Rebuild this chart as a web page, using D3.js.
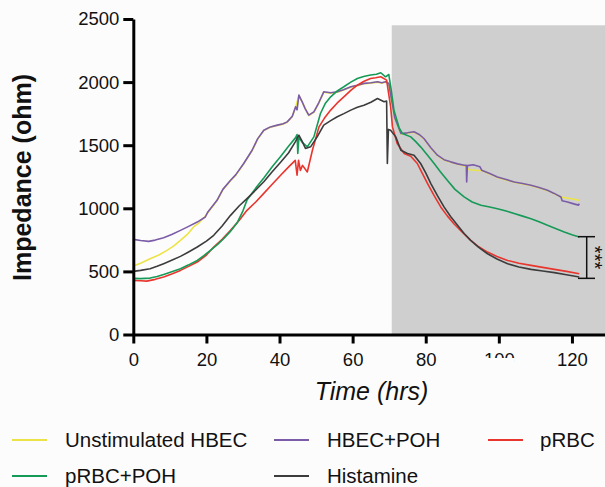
<!DOCTYPE html>
<html>
<head>
<meta charset="utf-8">
<script src="https://cdnjs.cloudflare.com/ajax/libs/d3/7.8.5/d3.min.js"></script>
<style>
	body { margin: 0; background: #fdfcfc; }
	svg { display: block; font-family: 'Liberation Sans', Arial, sans-serif; }
</style>
</head>
<body>
<svg id="chart" width="605" height="487"></svg>
<script>
'use strict'

// [time (hrs), impedance (ohm)]
var unstimulated = [
	[0,542],[2,565],[4.6,601],[7,630],[9.2,667],[11,700],[12.9,746],[15,800],[16.5,852],[18,885],[19.5,931],
	[20.4,966],[22.9,1060],[24.5,1147],[26.6,1219],[28,1262],[30.2,1352],[32.5,1457],[34,1547],[35.7,1616],
	[37.5,1642],[39.4,1656],[41,1667],[42.1,1682],[43.5,1727],[44.4,1800],[45.3,1893],[46.2,1841],[48,1735],
	[49.4,1761],[50.8,1837],[52.1,1920],[54,1912],[55.8,1920],[57.5,1937],[59.5,1960],[61.3,1972],[63.1,1987],
	[65,1992],[66.8,2000],[68,1992],[69,2000],[69.9,1987],[70.4,1897],[71.5,1717],[73.2,1590],[75,1595],
	[76.8,1603],[78.2,1582],[79.5,1550],[81.4,1477],[83.2,1418],[85,1382],[86.8,1365],[88.7,1349],[90.5,1338],
	[92,1305],[94.5,1300],[95.3,1300],[97.5,1272],[99.6,1245],[102,1225],[104.2,1206],[106.5,1193],[108.8,1180],
	[111,1162],[113.3,1140],[115,1117],[117,1090],[119,1080],[121,1070],[122,1063]
];

var hbecPoh = [
	[0,754],[2,745],[4.2,738],[6,748],[8.3,767],[10.5,792],[12.9,825],[15,855],[17.5,891],[19.7,931],
	[20.4,971],[22.9,1063],[24.5,1150],[26.6,1222],[28,1265],[30.2,1355],[32.5,1460],[34,1550],[35.7,1619],
	[37.5,1645],[39.4,1659],[41,1670],[42.1,1685],[43.5,1730],[44.4,1804],[44.8,1780],[45.3,1897],[46.2,1844],
	[47,1790],[48,1738],[49.4,1764],[50.8,1840],[52.1,1923],[54,1915],[55.8,1923],[57.5,1940],[59.5,1963],
	[61.3,1975],[63.1,1990],[65,1995],[66.8,2003],[68,1995],[69,2003],[69.9,1990],[70.4,1900],[71.5,1720],
	[73.2,1593],[75,1598],[76.8,1606],[78.2,1585],[79.5,1553],[81.4,1480],[83.2,1421],[85,1385],[86.8,1368],
	[88.7,1352],[90.5,1341],[91.1,1340],[91.2,1209],[91.4,1338],[93,1345],[94.8,1330],[95.3,1302],[97.5,1275],
	[99.6,1248],[102,1228],[104.2,1209],[106.5,1196],[108.8,1183],[111,1165],[113.3,1143],[115,1120],[117,1090],
	[117.3,1060],[118.8,1050],[120.5,1035],[121.8,1025],[122,1037]
];

var prbc = [
	[0,429],[2,426],[3.7,423],[6,437],[8.3,455],[10.5,480],[12.9,508],[15,538],[17.5,574],[20,630],[22,693],
	[24.3,755],[26.6,825],[29,905],[31.1,984],[33.5,1050],[35.7,1118],[38,1190],[40.3,1262],[42.5,1328],
	[44.3,1380],[44.8,1262],[45.2,1381],[45.7,1300],[46.3,1340],[47.6,1288],[49,1460],[50.8,1645],[52.3,1715],
	[54,1778],[55.8,1835],[57.6,1883],[59.5,1935],[61.3,1976],[63,2005],[64.9,2029],[66.3,2035],[67.7,2042],
	[69.3,2016],[70.4,1804],[70.9,1645],[72.2,1513],[74.1,1434],[75.9,1413],[77.7,1355],[79,1280],[80.5,1196],
	[82.3,1100],[84.1,1011],[85.9,940],[87.7,878],[90,810],[92.3,746],[94.5,695],[96.9,653],[99.5,618],
	[102.4,587],[105.5,565],[108.8,548],[112,532],[115.2,516],[118.5,500],[122,482]
];

var prbcPoh = [
	[0,445],[2,443],[4.6,447],[6.5,460],[8.3,476],[10.5,497],[12.9,521],[15,550],[17.5,587],[19.3,625],
	[21.1,667],[23,712],[24.7,759],[26.5,815],[28.4,885],[30,980],[31.1,1065],[33.5,1160],[35.7,1240],
	[38,1330],[40.3,1410],[42.3,1485],[44.4,1560],[44.8,1585],[45,1434],[45.3,1560],[46.3,1520],[47.6,1487],
	[49.4,1566],[51.2,1751],[52.5,1830],[54,1883],[55.8,1930],[57.6,1963],[59.5,2000],[61.3,2029],[63,2045],
	[64.9,2056],[66.5,2062],[67.7,2074],[69,2042],[69.9,2060],[70.5,1950],[71.3,1778],[72.7,1640],[73.6,1593],
	[75.9,1566],[77.2,1530],[78.6,1487],[80.5,1420],[82.3,1355],[84,1290],[85.9,1222],[88,1150],[90.5,1090],
	[92.7,1050],[95.1,1024],[97.5,1010],[99.6,997],[102,978],[104.2,958],[106.5,938],[108.8,918],[111,893],
	[113.3,865],[115.5,840],[117.9,812],[120,790],[122,772]
];

var histamine = [
	[0,500],[2,508],[4.6,521],[6.5,540],[8.3,561],[10.5,588],[12.9,619],[15,652],[17.5,693],[20,740],[22,786],
	[24.3,860],[26.6,944],[29,1020],[31.1,1077],[33.5,1145],[35.7,1210],[38,1290],[40.3,1365],[42.5,1440],
	[44.4,1530],[45.3,1579],[46.2,1530],[47.1,1474],[48.5,1487],[50.3,1566],[52.1,1659],[54,1695],[55.8,1725],
	[57.6,1750],[59.5,1778],[61.3,1800],[63.1,1817],[65,1840],[66.8,1870],[68.6,1844],[69.3,1850],[69.5,1355],
	[69.8,1625],[70.4,1619],[71.8,1566],[73.2,1460],[75,1434],[76.8,1421],[78.6,1355],[80,1280],[81.4,1196],
	[83.2,1100],[85,1011],[86.8,935],[88.7,865],[90.5,800],[92.3,746],[94.5,690],[96.9,640],[99.5,598],
	[102.4,561],[105.5,535],[108.8,516],[112,503],[115.2,490],[118.5,473],[122,455]
];

var seriesNames = ['Unstimulated HBEC', 'HBEC+POH', 'pRBC', 'pRBC+POH', 'Histamine'];
var seriesColors = ['#ece446', '#7b5ca8', '#e8352d', '#169a57', '#3c3c3c'];
var xTicks = [0, 20, 40, 60, 80, 100, 120];
var yTicks = [0, 500, 1000, 1500, 2000, 2500];
var shadeStart = 70.7;    // hrs
var shadeTop = 2450;      // ohm
var sigRange = [775, 445]; // *** bracket at the end of the run

var series = [unstimulated, hbecPoh, prbc, prbcPoh, histamine];

var svg = d3.select('#chart');

var x = d3.scaleLinear()
	.domain([0, 130])
	.range([133.3, 608.5]);

var y = d3.scaleLinear()
	.domain([0, 2500])
	.range([334.5, 19]);

// shaded period
svg.append('rect')
	.attr('x', x(shadeStart))
	.attr('y', y(shadeTop))
	.attr('width', 605 - x(shadeStart))
	.attr('height', y(0) - y(shadeTop))
	.style('fill', '#cfcfcf');

var line = d3.line()
	.x(function(d) { return x(d[0]); })
	.y(function(d) { return y(d[1]); });

svg.append('g')
	.selectAll('path')
	.data(series)
	.enter()
	.append('path')
	.attr('d', line)
	.style('fill', 'none')
	.style('stroke', function(d, i) { return seriesColors[i]; })
	.style('stroke-width', 1.6)
	.style('stroke-linejoin', 'round');

// axes
var xAxis = svg.append('g')
	.attr('transform', 'translate(0,' + y(0) + ')')
	.call(d3.axisBottom(x).tickValues(xTicks).tickFormat(d3.format('d'))
		.tickSize(9).tickSizeOuter(0).tickPadding(9));

var yAxis = svg.append('g')
	.attr('transform', 'translate(' + x(0) + ',0)')
	.call(d3.axisLeft(y).tickValues(yTicks).tickFormat(d3.format('d'))
		.tickSize(10).tickSizeOuter(0).tickPadding(4));

[xAxis, yAxis].forEach(function(a) {
	a.select('.domain').style('stroke', '#000').style('stroke-width', 3);
	a.selectAll('.tick line').style('stroke', '#000').style('stroke-width', 3);
	a.selectAll('.tick text')
		.style('font-family', "'Liberation Sans', Arial, sans-serif")
		.style('font-size', '18.5px')
		.style('fill', '#111');
});

// the "100" label is partly hidden in the original
svg.append('rect')
	.attr('x', x(100) - 16)
	.attr('y', 358)
	.attr('width', 32)
	.attr('height', 12)
	.style('fill', '#fdfcfc');

svg.append('text')
	.attr('transform', 'translate(31,177.5) rotate(-90)')
	.attr('text-anchor', 'middle')
	.style('font-size', '25px')
	.style('font-weight', 'bold')
	.style('fill', '#111')
	.text('Impedance (ohm)');

svg.append('text')
	.attr('x', 371.5)
	.attr('y', 400)
	.attr('text-anchor', 'middle')
	.style('font-size', '25px')
	.style('font-style', 'italic')
	.style('fill', '#111')
	.text('Time (hrs)');

// significance bracket
var sig = svg.append('g').style('stroke', '#111').style('stroke-width', 1.5);
sig.append('line')
	.attr('x1', 586.7).attr('x2', 586.7)
	.attr('y1', y(sigRange[0])).attr('y2', y(sigRange[1]));
sigRange.forEach(function(v) {
	sig.append('line')
		.attr('x1', 578).attr('x2', 595)
		.attr('y1', y(v)).attr('y2', y(v));
});

svg.append('text')
	.attr('transform', 'translate(588,' + ((y(sigRange[0]) + y(sigRange[1])) / 2) + ') rotate(90)')
	.attr('text-anchor', 'middle')
	.style('font-size', '20px')
	.style('fill', '#111')
	.text('***');

// legend
var legendPos = [
	{ lx: 12, tx: 65, ly: 440 },
	{ lx: 274, tx: 327, ly: 440 },
	{ lx: 488, tx: 540, ly: 440 },
	{ lx: 12, tx: 65, ly: 476 },
	{ lx: 274, tx: 327, ly: 476 }
];

var legend = svg.append('g')
	.selectAll('g')
	.data(seriesNames)
	.enter()
	.append('g');

legend.append('line')
	.attr('x1', function(d, i) { return legendPos[i].lx; })
	.attr('x2', function(d, i) { return legendPos[i].lx + 35; })
	.attr('y1', function(d, i) { return legendPos[i].ly; })
	.attr('y2', function(d, i) { return legendPos[i].ly; })
	.style('stroke', function(d, i) { return seriesColors[i]; })
	.style('stroke-width', 2);

legend.append('text')
	.attr('x', function(d, i) { return legendPos[i].tx; })
	.attr('y', function(d, i) { return legendPos[i].ly + 7; })
	.style('font-size', '20.5px')
	.style('fill', '#111')
	.text(function(d) { return d; });

</script>
</body>
</html>
